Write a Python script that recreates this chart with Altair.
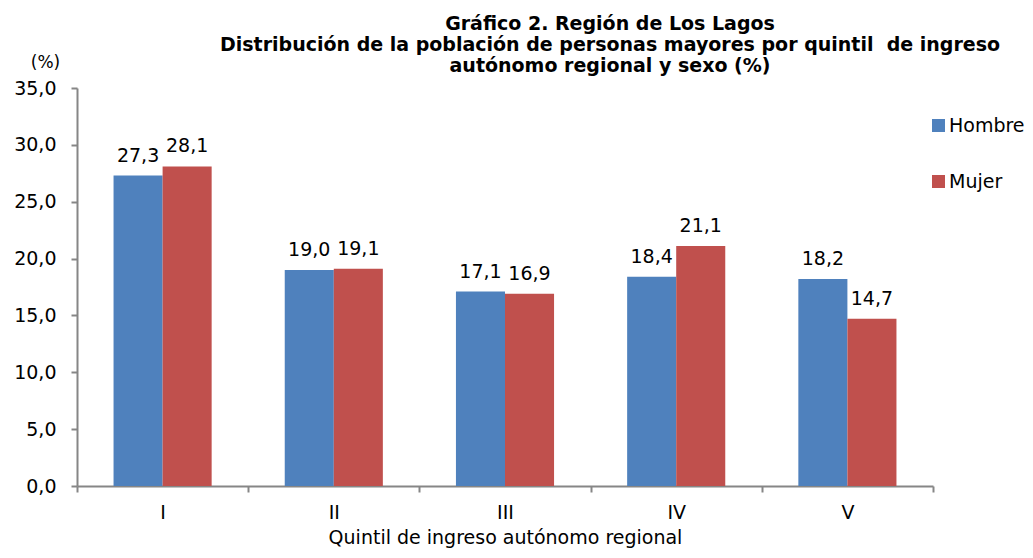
import altair as alt
import pandas as pd

quintiles = ["I", "II", "III", "IV", "V"]
hombre = [27.3, 19.0, 17.1, 18.4, 18.2]
mujer = [28.1, 19.1, 16.9, 21.1, 14.7]
series = ["Hombre", "Mujer"]
colors = ["#4F81BD", "#C0504D"]

rows = []
for q, h, m in zip(quintiles, hombre, mujer):
    rows.append({"Quintil": q, "Sexo": "Hombre", "Valor": h})
    rows.append({"Quintil": q, "Sexo": "Mujer", "Valor": m})
df = pd.DataFrame(rows)

FONT = "DejaVu Sans"
FS = 19

x_enc = alt.X(
    "Quintil:N",
    sort=quintiles,
    scale=alt.Scale(paddingInner=0, paddingOuter=0),
    axis=alt.Axis(
        title="Quintil de ingreso autónomo regional",
        labelAngle=0,
        tickBand="extent",
        labelFontSize=FS,
        titleFontSize=FS,
        titleFontWeight="normal",
        labelPadding=11,
        titlePadding=6,
    ),
)
xoff = alt.XOffset(
    "Sexo:N",
    sort=series,
    scale=alt.Scale(paddingInner=0, paddingOuter=0.745),
)
y_enc = alt.Y(
    "Valor:Q",
    scale=alt.Scale(domain=[0, 35], nice=False),
    axis=alt.Axis(
        values=[0, 5, 10, 15, 20, 25, 30, 35],
        labelExpr="replace(format(datum.value, '.1f'), '.', ',')",
        title="(%)",
        titleAngle=0,
        titleX=-32,
        titleY=-26,
        titleAlign="center",
        titleBaseline="middle",
        titleFontSize=17,
        titleFontWeight="normal",
        labelFontSize=FS,
        labelPadding=15,
        grid=False,
    ),
)

base = alt.Chart(df)

bars = base.mark_bar().encode(
    x=x_enc,
    xOffset=xoff,
    y=y_enc,
    color=alt.Color(
        "Sexo:N",
        sort=series,
        scale=alt.Scale(domain=series, range=colors),
        legend=alt.Legend(
            title=None,
            orient="none",
            legendX=852,
            legendY=28,
            symbolType="square",
            symbolSize=170,
            symbolStrokeWidth=0,
            labelFontSize=FS,
            rowPadding=36,
            labelOffset=1,
        ),
    ),
)

labels = base.transform_calculate(
    lab="replace(format(datum.Valor, '.1f'), '.', ',')"
).mark_text(baseline="bottom", dy=-10, fontSize=FS, font=FONT, color="#000000").encode(
    x=alt.X("Quintil:N", sort=quintiles),
    xOffset=alt.XOffset("Sexo:N", sort=series),
    y=alt.Y("Valor:Q"),
    text="lab:N",
)

chart = (
    alt.layer(bars, labels)
    .properties(
        width=856,
        height=398,
        title=alt.Title(
            text=[
                "Gráfico 2. Región de Los Lagos",
                "Distribución de la población de personas mayores por quintil\u00a0 de ingreso",
                "autónomo regional y sexo (%)",
            ],
            font=FONT,
            fontSize=19,
            fontWeight="bold",
            anchor="middle",
            dx=105,
            dy=27,
            lineHeight=21,
            color="#000000",
        ),
        autosize=alt.AutoSizeParams(type="none"),
        padding={"left": 69, "top": 80, "right": 92, "bottom": 64},
    )
    .configure(font=FONT)
    .configure_view(stroke=None)
    .configure_axis(
        domainColor="#868686",
        domainWidth=2,
        tickColor="#868686",
        tickWidth=2,
        tickSize=6,
        labelColor="#000000",
        titleColor="#000000",
        labelFont=FONT,
        titleFont=FONT,
    )
    .configure_legend(labelFont=FONT, labelColor="#000000")
)

chart.save("out.html", embed_options={"renderer": "svg", "actions": False})
